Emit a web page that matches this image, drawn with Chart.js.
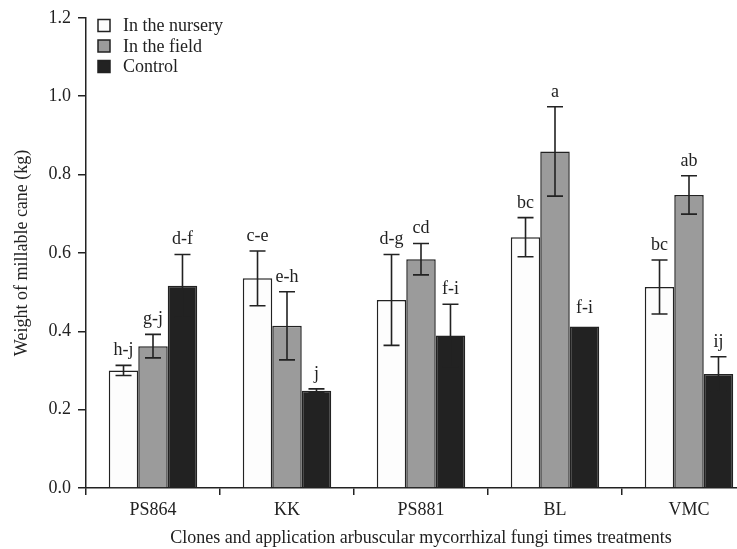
<!DOCTYPE html>
<html><head><meta charset="utf-8">
<script src="https://cdn.jsdelivr.net/npm/chart.js@4"></script>
<style>
html,body{margin:0;padding:0;background:#fff;overflow:hidden;}
#wrap{width:756px;height:549px;}
</style></head>
<body><div id="wrap"><canvas id="c" width="756" height="549"></canvas></div>
<script>
const categories = ['PS864','KK','PS881','BL','VMC'];
const seriesNames = ['In the nursery','In the field','Control'];
const nursery = [0.30,0.535,0.48,0.64,0.513];
const nurseryErr = [0.013,0.07,0.116,0.05,0.069];
const field = [0.362,0.414,0.584,0.859,0.748];
const fieldErr = [0.03,0.087,0.04,0.114,0.049];
const control = [0.516,0.248,0.389,0.412,0.291];
const controlErr = [0.08,0.005,0.08,0,0.044];
const nurseryLetters = ['h-j','c-e','d-g','bc','bc'];
const fieldLetters = ['g-j','e-h','cd','a','ab'];
const controlLetters = ['d-f','j','f-i','f-i','ij'];
const yTicks = [0,0.2,0.4,0.6,0.8,1.0,1.2];

const INK = '#222222';
const FONT = '"Liberation Serif", "Times New Roman", serif';
const FS = 18;
const colors = ['#fdfdfd','#9b9b9b','#222222'];
const errs = [nurseryErr, fieldErr, controlErr];
const letters = [nurseryLetters, fieldLetters, controlLetters];

const errPlugin = {
  id:'errbars',
  afterDatasetsDraw(chart){
    const ctx = chart.ctx, y = chart.scales.y;
    ctx.save();
    chart.data.datasets.forEach((ds,i)=>{
      const meta = chart.getDatasetMeta(i);
      meta.data.forEach((bar,j)=>{
        const v = ds.data[j], e = errs[i][j];
        const x = bar.x;
        const yt = y.getPixelForValue(v+e), yb = y.getPixelForValue(v-e);
        if(e>0){
          ctx.strokeStyle = INK; ctx.lineWidth = 1.6;
          ctx.beginPath();
          ctx.moveTo(x,yt); ctx.lineTo(x,yb);
          ctx.moveTo(x-8,yt); ctx.lineTo(x+8,yt);
          ctx.moveTo(x-8,yb); ctx.lineTo(x+8,yb);
          ctx.stroke();
        }
        ctx.fillStyle = INK;
        ctx.font = FS + 'px ' + FONT;
        ctx.textAlign = 'center'; ctx.textBaseline = 'alphabetic';
        ctx.fillText(letters[i][j], x, yt - (e>0?10:14));
      });
    });
    ctx.restore();
  }
};

const legendPlugin = {
  id:'customLegend',
  afterDraw(chart){
    const ctx = chart.ctx;
    ctx.save();
    chart.data.datasets.forEach((ds,i)=>{
      const yc = 25.5 + i*20.5;
      ctx.fillStyle = colors[i];
      ctx.fillRect(98, yc-6, 12, 12);
      ctx.strokeStyle = INK; ctx.lineWidth = 1.5;
      ctx.strokeRect(98, yc-6, 12, 12);
      ctx.fillStyle = INK;
      ctx.font = FS + 'px ' + FONT;
      ctx.textAlign = 'left'; ctx.textBaseline = 'middle';
      ctx.fillText(ds.label, 123, yc+1);
    });
    ctx.restore();
  }
};

const valueSets = [nursery, field, control];
new Chart(document.getElementById('c'), {
  type:'bar',
  data:{
    labels:categories,
    datasets: seriesNames.map((n,i)=>({
      label:n, data:valueSets[i], backgroundColor:colors[i],
      borderColor:INK, borderWidth:1.5,
      categoryPercentage:0.66, barPercentage:1.0
    }))
  },
  options:{
    responsive:false, animation:false,
    layout:{padding:{top:0,right:0,left:0,bottom:0}},
    plugins:{legend:{display:false}, tooltip:{enabled:false}},
    scales:{
      x:{
        offset:true,
        grid:{display:true, drawOnChartArea:false, drawTicks:true, tickLength:7, color:INK, lineWidth:1.5, offset:true},
        border:{display:true, color:INK, width:1.5},
        ticks:{color:INK, font:{family:FONT, size:FS}, padding:4},
        title:{display:true, text:'Clones and application arbuscular mycorrhizal fungi times treatments', color:INK, font:{family:FONT, size:FS}, padding:{top:2,bottom:0}},
        afterFit(s){ s.height = 61; }
      },
      y:{
        min:0, max:1.2,
        afterBuildTicks(s){ s.ticks = yTicks.map(v=>({value:v})); },
        grid:{display:true, drawOnChartArea:false, drawTicks:true, tickLength:8, color:INK, lineWidth:1.5},
        border:{display:true, color:INK, width:1.5},
        ticks:{color:INK, font:{family:FONT, size:FS}, padding:7, callback:v=>Number(v).toFixed(1)},
        title:{display:true, text:'Weight of millable cane (kg)', color:INK, font:{family:FONT, size:FS}, padding:{top:11,bottom:0}},
        afterFit(s){ s.width = 86; }
      }
    }
  },
  plugins:[errPlugin, legendPlugin]
});
</script></body></html>
